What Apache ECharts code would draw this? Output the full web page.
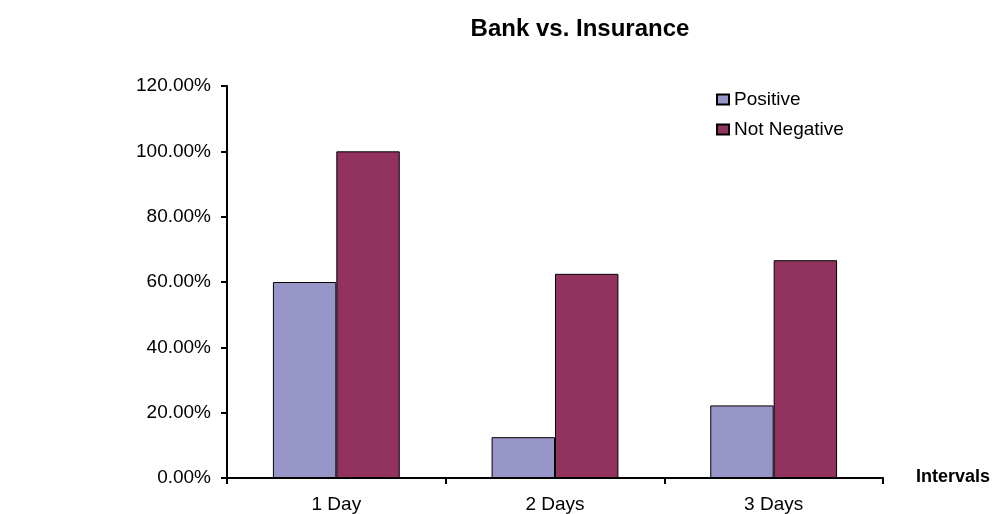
<!DOCTYPE html>
<html>
<head>
<meta charset="utf-8">
<script src="https://cdn.jsdelivr.net/npm/echarts@6/dist/echarts.min.js"></script>
<style>
	html, body { margin: 0; padding: 0; background: #fff; }
	#chart { width: 1002px; height: 514px; }
</style>
</head>
<body>
<div id="chart"></div>
<script>
var categories = ['1 Day', '2 Days', '3 Days'];		// x轴分类
var positive = [60, 12.5, 22.22];					// Positive (%)
var notNegative = [100, 62.5, 66.67];				// Not Negative (%)
var yTicks = [0, 20, 40, 60, 80, 100, 120];			// y轴刻度

var font = 'Liberation Sans, Arial, sans-serif';

var chart = echarts.init(document.getElementById('chart'));
chart.setOption({
	animation: false,
	title: {
		text: 'Bank vs. Insurance',
		left: 575,
		textAlign: 'center',
		top: 12,
		textStyle: { fontFamily: font, fontSize: 24, fontWeight: 'bold', color: '#000' }
	},
	legend: {
		orient: 'vertical',
		left: 716,
		top: 90,
		padding: 0,
		itemWidth: 12,
		itemHeight: 10,
		itemGap: 11,
		icon: 'rect',
		textStyle: { fontFamily: font, fontSize: 19, color: '#000' }
	},
	grid: { left: 227, right: 119, top: 86, bottom: 35 },
	xAxis: {
		type: 'category',
		data: categories,
		name: 'Intervals',
		nameLocation: 'end',
		nameGap: 33,
		nameTextStyle: { fontFamily: font, fontSize: 18, fontWeight: 'bold', color: '#000', verticalAlign: 'bottom', padding: [0, 0, -8, 0] },
		axisLine: { lineStyle: { color: '#000', width: 2 } },
		axisTick: { show: true, length: 6, lineStyle: { color: '#000', width: 2 } },
		axisLabel: { fontFamily: font, fontSize: 19, color: '#000', margin: 17 }
	},
	yAxis: {
		type: 'value',
		min: yTicks[0],
		max: yTicks[yTicks.length - 1],
		interval: yTicks[1] - yTicks[0],
		splitLine: { show: false },
		axisLine: { show: true, lineStyle: { color: '#000', width: 2 } },
		axisTick: { show: true, length: 6, lineStyle: { color: '#000', width: 2 } },
		axisLabel: {
			fontFamily: font, fontSize: 19, color: '#000', margin: 16,
			formatter: function (v) { return v.toFixed(2) + '%'; }
		}
	},
	series: [
		{
			name: 'Positive',
			type: 'bar',
			data: positive,
			barGap: '0%',
			barCategoryGap: '42%',
			itemStyle: { color: '#9896C8', borderColor: '#000', borderWidth: 1 }
		},
		{
			name: 'Not Negative',
			type: 'bar',
			data: notNegative,
			itemStyle: { color: '#92325F', borderColor: '#000', borderWidth: 1 }
		}
	]
});
</script>
</body>
</html>
